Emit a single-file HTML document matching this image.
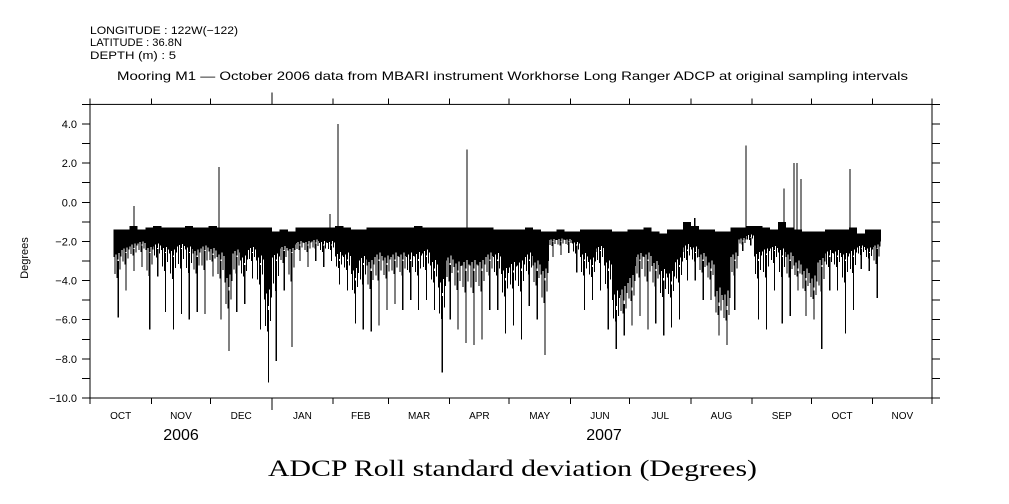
<!DOCTYPE html>
<html><head><meta charset="utf-8"><style>
body{margin:0;background:#fff;}
svg{display:block;font-family:"Liberation Sans",sans-serif;}
#data line,#data rect,#axes line{shape-rendering:crispEdges;}
</style></head><body>
<svg id="c" width="1009" height="504" viewBox="0 0 1009 504">
<g font-size="11" fill="#000">
<text x="90" y="34" textLength="148" lengthAdjust="spacingAndGlyphs">LONGITUDE : 122W(−122)</text>
<text x="90" y="46" textLength="92" lengthAdjust="spacingAndGlyphs">LATITUDE : 36.8N</text>
<text x="90" y="59" textLength="86" lengthAdjust="spacingAndGlyphs">DEPTH (m) : 5</text>
<text x="117" y="80" font-size="12" textLength="791" lengthAdjust="spacingAndGlyphs">Mooring M1 — October 2006 data from MBARI instrument Workhorse Long Ranger ADCP at original sampling intervals</text>
</g>
<text x="28" y="258" font-size="11" transform="rotate(-90 28 258)" text-anchor="middle">Degrees</text>
<text x="268" y="476" font-size="23" textLength="489" lengthAdjust="spacingAndGlyphs" font-family="Liberation Serif,serif">ADCP Roll standard deviation (Degrees)</text>
<text x="181" y="440" font-size="16" text-anchor="middle">2006</text>
<text x="604" y="440" font-size="16" text-anchor="middle">2007</text>
<g id="axes"></g><g id="data"></g>
</svg>
<script>
const monthLabels=["OCT","NOV","DEC","JAN","FEB","MAR","APR","MAY","JUN","JUL","AUG","SEP","OCT","NOV"];
const monthDays=[31,30,31,31,28,31,30,31,30,31,31,30,31,30];
const yTicks=[4,2,0,-2,-4,-6,-8,-10];
const binStart=14, binStep=4;
const hi=[-1.4,-1.4,-1.2,-1.4,-1.3,-1.2,-1.3,-1.3,-1.3,-1.2,-1.3,-1.3,-1.2,-1.3,-1.3,-1.3,-1.3,-1.3,-1.3,-1.3,-1.5,-1.4,-1.5,-1.3,-1.3,-1.3,-1.3,-1.3,-1.2,-1.3,-1.4,-1.4,-1.3,-1.3,-1.3,-1.3,-1.3,-1.3,-1.2,-1.3,-1.3,-1.3,-1.3,-1.3,-1.3,-1.3,-1.3,-1.3,-1.4,-1.4,-1.4,-1.4,-1.3,-1.4,-1.5,-1.5,-1.4,-1.5,-1.5,-1.4,-1.4,-1.4,-1.4,-1.5,-1.5,-1.4,-1.4,-1.3,-1.5,-1.6,-1.4,-1.4,-1.0,-1.2,-1.4,-1.4,-1.5,-1.5,-1.3,-1.3,-1.2,-1.2,-1.3,-1.4,-1.0,-1.3,-1.4,-1.5,-1.5,-1.5,-1.4,-1.4,-1.4,-1.3,-1.6,-1.4,-1.4];
const core=[-3.0,-2.6,-2.4,-2.2,-2.6,-2.4,-2.6,-2.8,-2.4,-2.6,-2.8,-2.5,-2.7,-3.0,-4.5,-2.8,-3.2,-2.6,-3.2,-5.5,-3.0,-2.5,-2.6,-2.2,-2.2,-2.1,-2.2,-2.2,-3.0,-3.0,-4.0,-3.2,-3.5,-3.0,-3.2,-3.0,-3.0,-3.0,-3.0,-2.8,-3.5,-4.8,-3.2,-3.6,-3.5,-3.5,-3.5,-3.0,-3.0,-4.0,-3.6,-3.5,-3.0,-3.5,-4.0,-2.0,-2.0,-2.0,-2.2,-3.0,-3.3,-2.5,-3.5,-5.5,-5.2,-4.5,-3.0,-3.0,-3.5,-4.0,-4.2,-3.3,-2.5,-2.6,-3.0,-3.5,-5.3,-5.5,-3.0,-2.0,-1.8,-3.0,-2.7,-2.5,-2.8,-3.0,-3.5,-4.0,-4.5,-3.3,-2.8,-2.8,-3.0,-2.8,-2.4,-2.6,-2.4,-2.3];
const lo=[-5.9,-4.5,-3.5,-3.3,-6.5,-3.8,-5.6,-6.5,-5.7,-6.0,-5.6,-5.7,-3.8,-6.0,-7.6,-5.6,-5.2,-3.9,-6.5,-9.2,-8.1,-4.5,-7.4,-3.0,-3.3,-3.0,-3.3,-3.0,-4.2,-4.5,-6.2,-6.5,-6.6,-6.3,-5.5,-5.2,-5.5,-5.0,-5.5,-5.0,-5.5,-8.7,-6.0,-6.5,-7.2,-7.3,-7.0,-5.5,-5.5,-6.7,-6.3,-7.0,-5.3,-6.0,-7.8,-2.8,-2.7,-2.6,-3.6,-5.5,-5.0,-4.5,-6.5,-7.5,-6.8,-6.3,-5.8,-6.5,-6.2,-6.8,-6.4,-6.0,-4.0,-4.0,-5.0,-5.0,-6.8,-7.3,-5.5,-2.5,-2.2,-6.0,-6.5,-4.5,-6.2,-5.8,-4.5,-5.8,-6.0,-7.5,-4.5,-4.5,-6.7,-5.5,-3.4,-3.5,-4.9,-3.0];
const spikeDays=[22.3,65.3,121.4,125.5,190.7,306,331.9,351.1,356.2,357.7,359.7,384.5];
const spikeVals=[-0.2,1.8,-0.6,4.0,2.7,-0.8,2.9,0.7,2.0,2.0,1.2,1.7];
const NS="http://www.w3.org/2000/svg";
const L=90,R=932,T=104.4,B=398,totalDays=426;
const xs=d=>L+(R-L)*d/totalDays;
const ys=v=>B-(B-T)*(v+10)/15;
function mk(tag,attrs,parent){const e=document.createElementNS(NS,tag);for(const k in attrs)e.setAttribute(k,attrs[k]);parent.appendChild(e);return e;}
const ax=document.getElementById('axes');
let fr=mk('rect',{x:L,y:T,width:R-L,height:B-T,fill:'none',stroke:'#000','stroke-width':1},ax);


for(let v=-10;v<=5;v++){const y=ys(v);
 let t1=mk('line',{x1:L-8,x2:L,y1:y,y2:y,stroke:'#000'},ax);
 
 
 let t2=mk('line',{x1:R,x2:R+8,y1:y,y2:y,stroke:'#000'},ax);
 
 }
yTicks.forEach(v=>{let t=mk('text',{x:L-13,y:ys(v)+4,'font-size':11,'text-anchor':'end'},ax);t.textContent=v.toFixed(1).replace('-','−');
 
 });
let d=0;
for(let i=0;i<=monthLabels.length;i++){const x=xs(d);const big=(i==3);
 if(x<=R+0.5){
 let a=mk('line',{x1:x,x2:x,y1:B,y2:B+(big?12:6),stroke:'#000'},ax);
 
 
 let b=mk('line',{x1:x,x2:x,y1:T,y2:T-(big?12:6),stroke:'#000'},ax);
 
 }
 if(i<monthLabels.length){const mid=xs(d+monthDays[i]/2);
 let t=mk('text',{x:mid,y:419,'font-size':10,'text-anchor':'middle'},ax);t.textContent=monthLabels[i];
 
 
 d+=monthDays[i];}}
const g=document.getElementById('data');
const bw=xs(binStep)-xs(0);
const subOff=[-3.5,-2.5,-1.5,-0.5,0.5,1.5,2.5,3.5];
const subFrac=[0.55,0.95,0.4,1.0,0.7,0.3,0.9,0.5];
hi.forEach((h,i)=>{const day=binStart+binStep*i;const x=xs(day);
 const top=ys(h), c=ys(core[i]), m=ys((core[i]+lo[i])/2);
 let r=mk('rect',{x:x-bw/2,y:top,width:bw+0.3,height:Math.max(1,(c-top)*0.6),fill:'#000'},g);
 
 
 subOff.forEach((o,k)=>{const f=subFrac[k];const yb=f>0.8?c+(m-c)*(f-0.8)*3:top+(c-top)*(0.6+f*0.5);
 let l=mk('line',{x1:x+o,x2:x+o,y1:top,y2:yb,stroke:'#000','stroke-width':1},g);
 
 });
 let l2=mk('line',{x1:x+0.5,x2:x+0.5,y1:c,y2:ys(lo[i]),stroke:'#000','stroke-width':1.2},g);
 
 });
spikeDays.forEach((sd,i)=>{const x=xs(sd);
 let l=mk('line',{x1:x,x2:x,y1:ys(-1.5),y2:ys(spikeVals[i]),stroke:'#000','stroke-width':1.2},g);
 
 });
</script>
</body></html>
